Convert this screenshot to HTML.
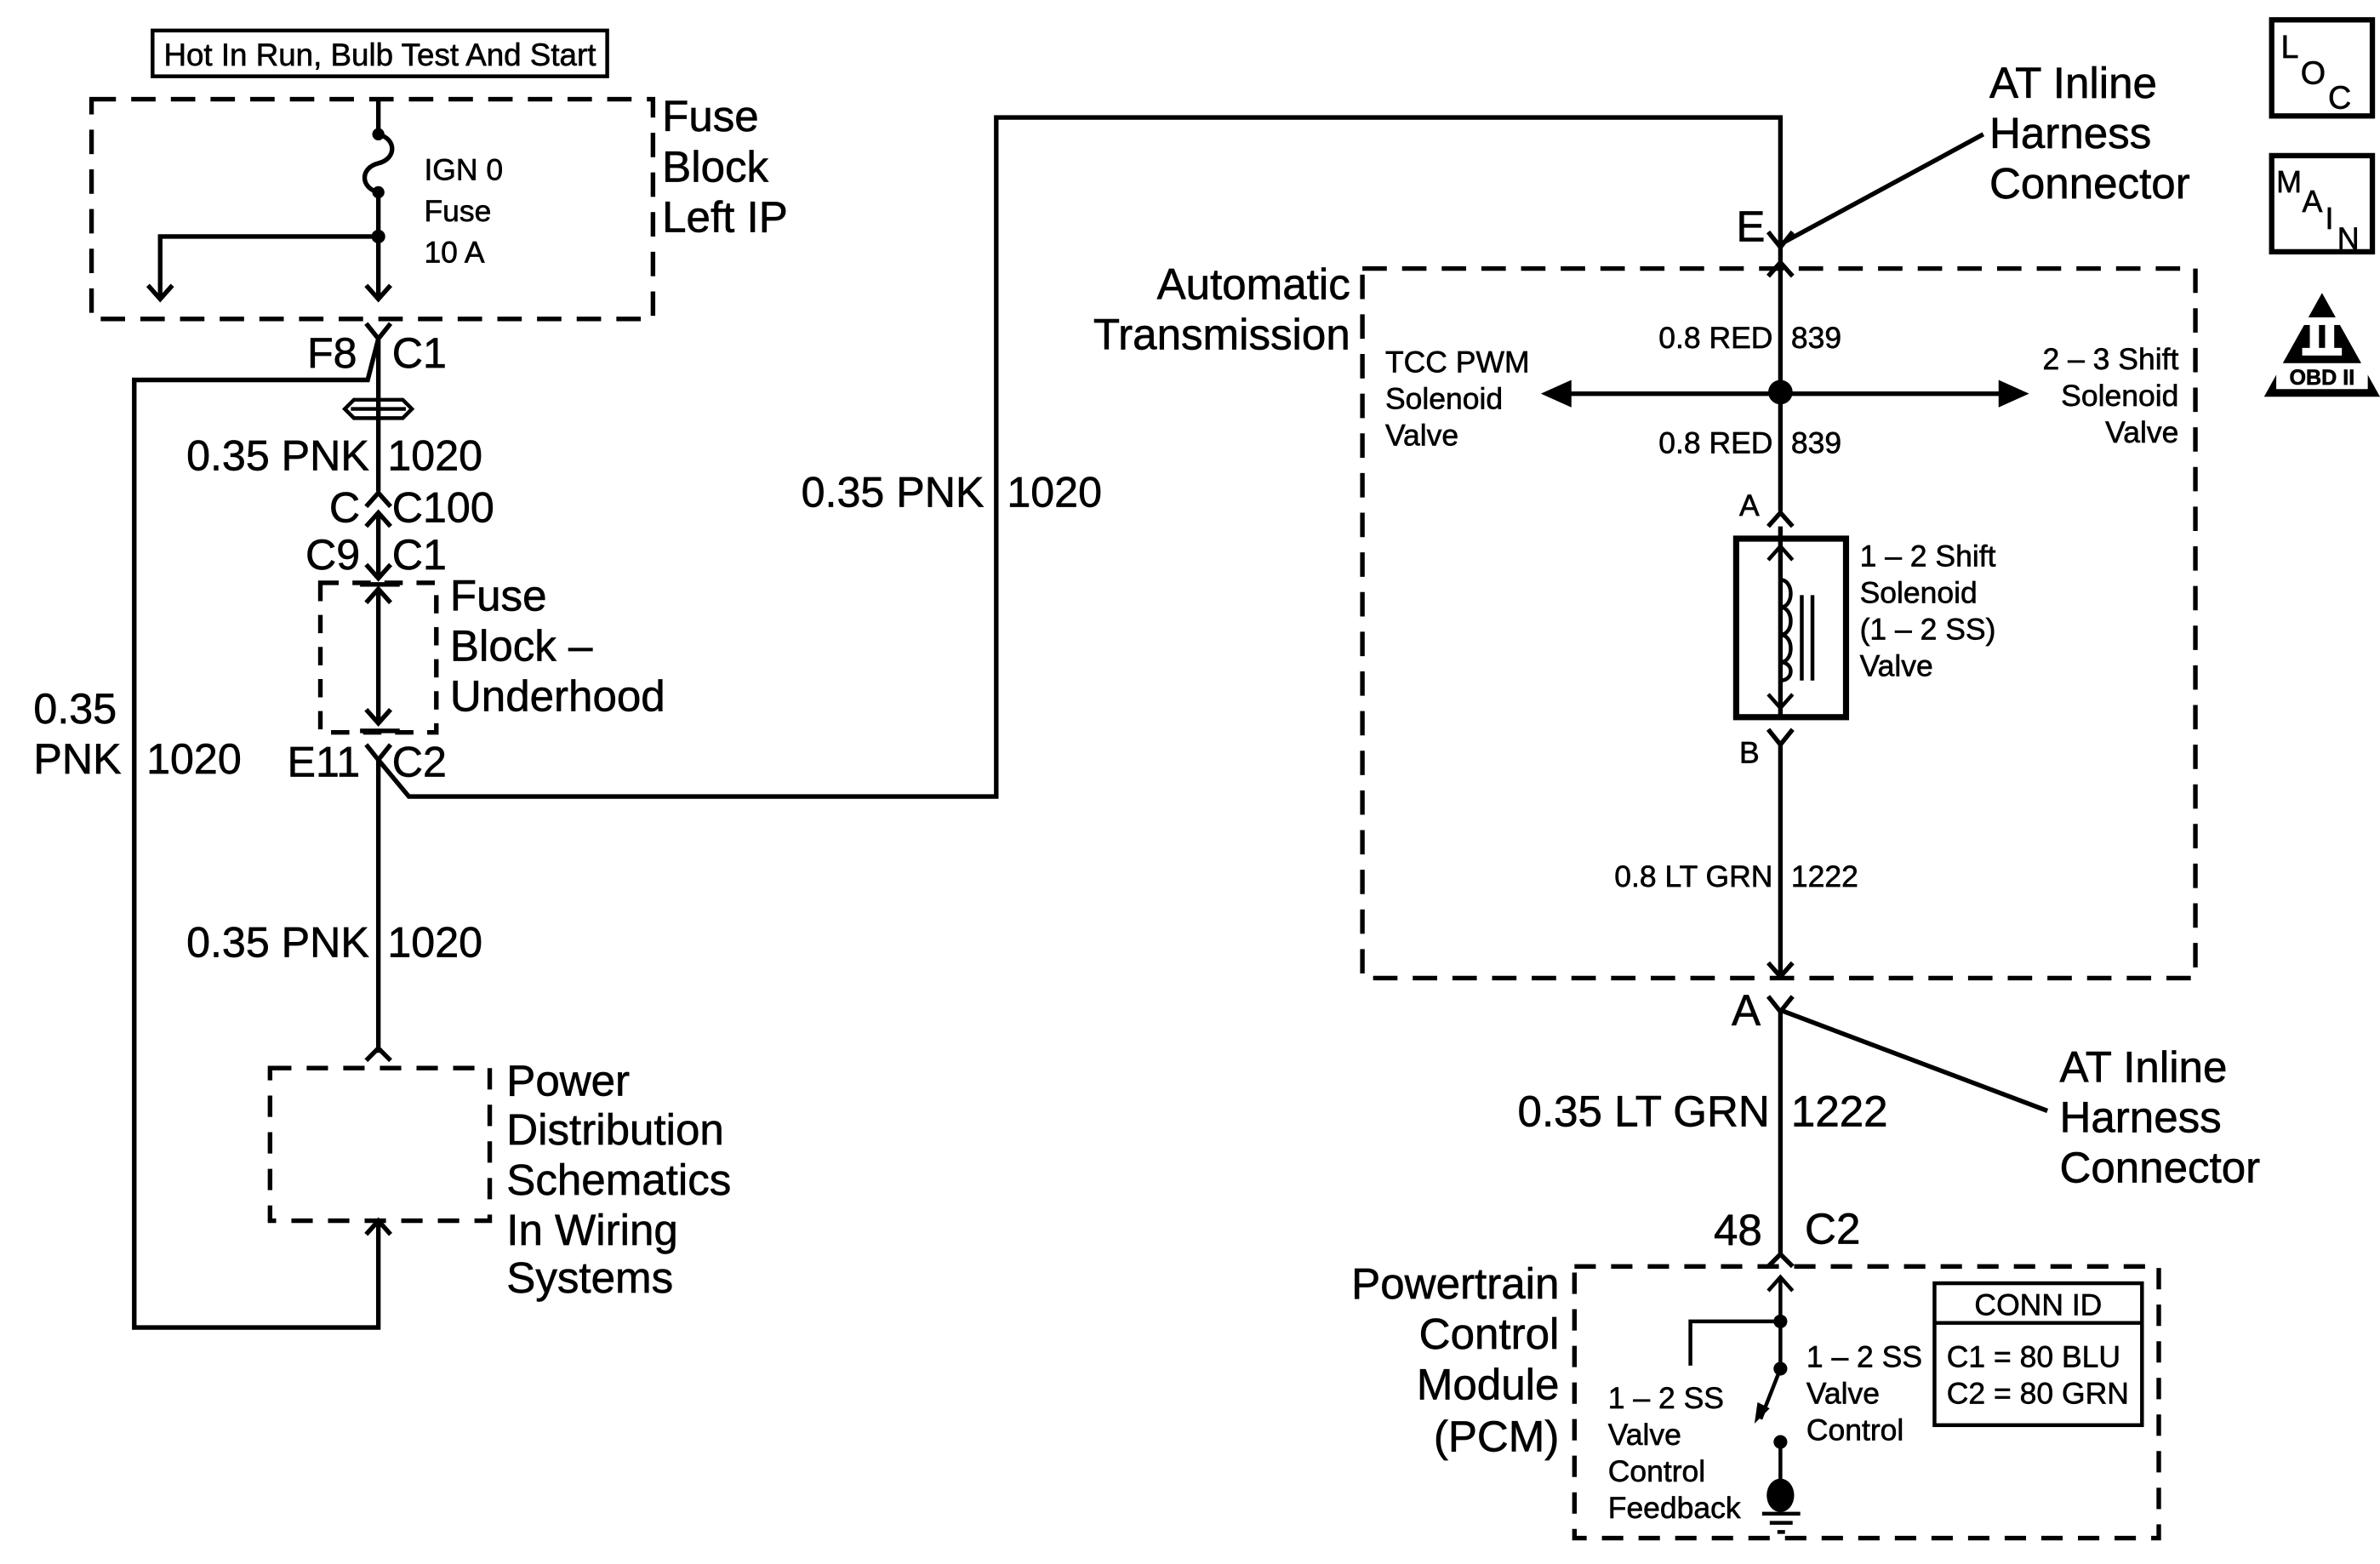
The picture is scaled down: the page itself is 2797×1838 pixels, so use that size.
<!DOCTYPE html>
<html><head><meta charset="utf-8"><style>
html,body{margin:0;padding:0;background:#fff}
svg{display:block}
text{font-family:"Liberation Sans",Arial,sans-serif;fill:#000;stroke:#000;stroke-width:0.35}
.L{font-size:28.5px}.M{font-size:28px}.S{font-size:19.8px}
</style></head><body>
<svg width="2797" height="1838" viewBox="0 0 1560 1025" preserveAspectRatio="none" xmlns="http://www.w3.org/2000/svg">
<g fill="none" stroke="#000" stroke-width="3">
<rect x="100" y="20" width="298" height="30" stroke-width="2.5"/>
<rect x="60" y="65" width="368" height="144" stroke-dasharray="16,10"/>
<path d="M248 65V88 M248 88c12 3 12 16 0 19c-12 3-12 16 0 19V196 M240 187l8 9 8-9"/>
<path d="M248 155H105V196 M97 187l8 9 8-9"/>
<path d="M240 212l8 10 8-10 M248 222V322 M248 222l-7 27H88V870H248V800 M240 809l8-9 8 9"/>
<path d="M230 268h36 M226 268l6-6h32l6 6-6 6h-32z" stroke-width="2.5"/>
<path d="M240 332l8-9 8 9 M240 345l8-9 8 9 M248 336V378 M240 370l8 9 8-9"/>
<rect x="210" y="382" width="76" height="98" stroke-dasharray="12,9"/>
<path d="M236 383h26 M236 479h26 M248 386V474 M240 395l8-9 8 9 M240 465l8 9 8-9"/>
<path d="M240 488l8 10 8-10 M248 498V690 M248 498l20 24H653V77H1167V160"/>
<rect x="177" y="700" width="144" height="100" stroke-dasharray="14,10"/>
<path d="M240 695l8-8 8 8"/>
<path d="M1300 88L1167 160 M1159 152l8 10 8-10 M1167 162V335 M1159 181l8-9 8 9"/>
<rect x="893" y="176" width="546" height="465" stroke-dasharray="16,10"/>
<path d="M1022 258H1318"/>
<path d="M1159 345l8-9 8 9 M1167 345V470"/>
<rect x="1138" y="353" width="72" height="117" stroke-width="4"/>
<path d="M1159 367l8-9 8 9 M1159 455l8 9 8-9 M1167 360V380 M1167 380c9 0 9 18 0 18c9 0 9 18 0 18c9 0 9 18 0 18c9 0 9 12 0 12V462 M1181 390v56 M1188 390v56" stroke-width="2.5"/>
<path d="M1159 478l8 10 8-10 M1167 488V640 M1159 631l8 9 8-9 M1159 653l8 10 8-10 M1167 663V822 M1342 728L1167 662"/>
<path d="M1159 830l8-8 8 8"/>
<rect x="1032" y="830" width="383" height="178" stroke-dasharray="14,10"/>
<path d="M1159 846l8-9 8 9 M1167 838V897 M1167 866H1108V895 M1167 897L1154 930 M1167 945V975 M1155 992h25 M1160 998h15 M1165 1004h5" stroke-width="2.5"/>
<rect x="1268" y="841" width="136" height="93" stroke-width="2.5"/>
<path d="M1268 867h136" stroke-width="2.5"/>
<rect x="1489" y="13" width="66" height="63" stroke-width="3.5"/>
<rect x="1489" y="102" width="66" height="63" stroke-width="3.5"/>
</g>
<g fill="#000">
<circle cx="248" cy="88" r="4"/><circle cx="248" cy="126" r="4"/><circle cx="248" cy="155" r="4.5"/>
<circle cx="1167" cy="257" r="8"/>
<path d="M1010 258l20-9v18z M1330 258l-20-9v18z"/>
<path d="M1150 933l2-14 8 4z"/>
<circle cx="1167" cy="866" r="4.5"/><circle cx="1167" cy="897" r="4.5"/><circle cx="1167" cy="945" r="4.5"/>
<ellipse cx="1167" cy="980" rx="9" ry="11"/>
<path d="M1522 192L1560 260H1484z"/>
</g>
<rect x="1492" y="238" width="60" height="17" fill="#fff"/>
<rect x="1509" y="208" width="26" height="5" fill="#fff"/><rect x="1509" y="228" width="26" height="5" fill="#fff"/>
<rect x="1514" y="212" width="6" height="17" fill="#fff"/><rect x="1524" y="212" width="6" height="17" fill="#fff"/>
<text x="1522" y="252" font-size="14" font-weight="bold" text-anchor="middle">OBD II</text>
<text x="1495" y="38" font-size="21">L</text><text x="1508" y="55" font-size="21">O</text><text x="1526" y="71" font-size="21">C</text>
<text x="1492" y="126" font-size="20">M</text><text x="1509" y="139" font-size="20">A</text><text x="1524" y="150" font-size="20">I</text><text x="1532" y="163" font-size="20">N</text>

<text x="249" y="43" font-size="20.5" text-anchor="middle">Hot In Run, Bulb Test And Start</text>
<text class="L" x="434" y="86">Fuse</text><text class="L" x="434" y="119">Block</text><text class="L" x="434" y="152">Left IP</text>
<text class="S" x="278" y="118">IGN 0</text><text class="S" x="278" y="145">Fuse</text><text class="S" x="278" y="172">10 A</text>
<text class="M" x="234" y="241" text-anchor="end">F8</text><text class="M" x="257" y="241">C1</text>
<text class="M" x="242" y="308" text-anchor="end">0.35 PNK</text><text class="M" x="254" y="308">1020</text>
<text class="M" x="236" y="342" text-anchor="end">C</text><text class="M" x="257" y="342">C100</text>
<text class="M" x="236" y="373" text-anchor="end">C9</text><text class="M" x="257" y="373">C1</text>
<text class="L" x="295" y="400">Fuse</text><text class="L" x="295" y="433">Block –</text><text class="L" x="295" y="466">Underhood</text>
<text class="M" x="236" y="509" text-anchor="end">E11</text><text class="M" x="257" y="509">C2</text>
<text class="M" x="22" y="474">0.35</text><text class="M" x="22" y="507">PNK</text><text class="M" x="96" y="507">1020</text>
<text class="M" x="242" y="627" text-anchor="end">0.35 PNK</text><text class="M" x="254" y="627">1020</text>
<text class="L" x="332" y="718">Power</text><text class="L" x="332" y="750">Distribution</text><text class="L" x="332" y="783">Schematics</text><text class="L" x="332" y="816">In Wiring</text><text class="L" x="332" y="847">Systems</text>
<text class="M" x="645" y="332" text-anchor="end">0.35 PNK</text><text class="M" x="660" y="332">1020</text>
<text class="L" x="1304" y="64">AT Inline</text><text class="L" x="1304" y="97">Harness</text><text class="L" x="1304" y="130">Connector</text>
<text class="L" x="1138" y="158">E</text>
<text class="L" x="885" y="196" text-anchor="end">Automatic</text><text class="L" x="885" y="229" text-anchor="end">Transmission</text>
<text class="S" x="1162" y="228" text-anchor="end">0.8 RED</text><text class="S" x="1174" y="228">839</text>
<text class="S" x="1162" y="297" text-anchor="end">0.8 RED</text><text class="S" x="1174" y="297">839</text>
<text class="S" x="908" y="244">TCC PWM</text><text class="S" x="908" y="268">Solenoid</text><text class="S" x="908" y="292">Valve</text>
<text class="S" x="1428" y="242" text-anchor="end">2 – 3 Shift</text><text class="S" x="1428" y="266" text-anchor="end">Solenoid</text><text class="S" x="1428" y="290" text-anchor="end">Valve</text>
<text class="S" x="1140" y="338">A</text><text class="S" x="1140" y="500">B</text>
<text class="S" x="1219" y="371">1 – 2 Shift</text><text class="S" x="1219" y="395">Solenoid</text><text class="S" x="1219" y="419">(1 – 2 SS)</text><text class="S" x="1219" y="443">Valve</text>
<text class="S" x="1162" y="581" text-anchor="end">0.8 LT GRN</text><text class="S" x="1174" y="581">1222</text>
<text class="L" x="1135" y="672">A</text>
<text class="L" x="1350" y="709">AT Inline</text><text class="L" x="1350" y="742">Harness</text><text class="L" x="1350" y="775">Connector</text>
<text class="L" x="1160" y="738" text-anchor="end">0.35 LT GRN</text><text class="L" x="1174" y="738">1222</text>
<text class="L" x="1155" y="816" text-anchor="end">48</text><text class="L" x="1183" y="815">C2</text>
<text class="L" x="1022" y="851" text-anchor="end">Powertrain</text><text class="L" x="1022" y="884" text-anchor="end">Control</text><text class="L" x="1022" y="917" text-anchor="end">Module</text><text class="L" x="1022" y="951" text-anchor="end">(PCM)</text>
<text class="S" x="1184" y="896">1 – 2 SS</text><text class="S" x="1184" y="920">Valve</text><text class="S" x="1184" y="944">Control</text>
<text class="S" x="1054" y="923">1 – 2 SS</text><text class="S" x="1054" y="947">Valve</text><text class="S" x="1054" y="971">Control</text><text class="S" x="1054" y="995">Feedback</text>
<text class="S" x="1336" y="862" text-anchor="middle">CONN ID</text>
<text class="S" x="1276" y="896">C1 = 80 BLU</text><text class="S" x="1276" y="920">C2 = 80 GRN</text>
</svg>
</body></html>
